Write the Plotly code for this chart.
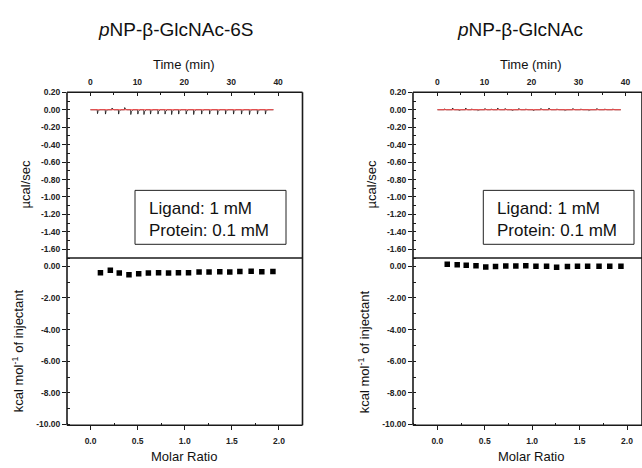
import plotly.graph_objects as go

# ---------------- data ----------------
# Raw thermogram: injection times (min) and spike heights (µcal/sec)
inj_times = [1.5, 3.2, 4.6, 6.0, 7.3, 8.6, 10.1, 11.4, 12.8, 14.4, 15.9, 17.3,
             18.8, 20.4, 22.0, 23.7, 25.4, 27.1, 28.8, 30.5, 32.2, 33.9, 35.6, 37.3]
spike_6S = [-0.045, -0.05, 0.02, -0.05, 0.025, -0.055, -0.05, -0.055, -0.05, -0.05,
            -0.05, -0.055, -0.05, -0.05, -0.055, -0.05, -0.05, -0.055, -0.05, -0.05,
            -0.05, -0.055, -0.05, -0.05]
spike_Glc = [0.01, 0.02, -0.01, 0.02, 0.01, -0.01, 0.015, 0.01, 0.02, 0.015,
             -0.01, 0.015, 0.01, -0.01, 0.015, 0.02, 0.01, -0.01, 0.015, 0.01,
             -0.01, 0.015, 0.01, 0.01]
baseline_t = [0.0, 39.0]
baseline_6S = [0.0, 0.0]
baseline_Glc = [0.0, 0.0]

# Integrated heats
molar_ratio = [0.105, 0.21, 0.305, 0.408, 0.511, 0.614, 0.722, 0.828, 0.933,
               1.04, 1.152, 1.258, 1.372, 1.478, 1.585, 1.705, 1.818, 1.936]
heat_6S = [-0.41, -0.25, -0.43, -0.54, -0.47, -0.43, -0.41, -0.43, -0.41,
           -0.41, -0.37, -0.37, -0.35, -0.37, -0.33, -0.31, -0.35, -0.33]
heat_Glc = [0.12, 0.10, 0.06, 0.04, -0.04, -0.02, 0.02, 0.02, 0.04,
            0.0, 0.0, -0.06, -0.02, 0.0, 0.0, 0.0, 0.0, 0.0]

titles = ["<i>p</i>NP-β-GlcNAc-6S", "<i>p</i>NP-β-GlcNAc"]
box_text = "Ligand: 1 mM<br>Protein: 0.1 mM"

top_y_vals = [0.2, 0.0, -0.2, -0.4, -0.6, -0.8, -1.0, -1.2, -1.4, -1.6]
top_y_text = ["0.20", "0.00", "-0.20", "-0.40", "-0.60", "-0.80", "-1.00", "-1.20", "-1.40", "-1.60"]
bot_y_vals = [0, -2, -4, -6, -8, -10]
bot_y_text = ["0.00", "-2.00", "-4.00", "-6.00", "-8.00", "-10.00"]
time_vals = [0, 10, 20, 30, 40]
ratio_vals = [0.0, 0.5, 1.0, 1.5, 2.0]
ratio_text = ["0.0", "0.5", "1.0", "1.5", "2.0"]


def thermogram(times, spikes, t_end=39.0):
    xs, ys = [0.0], [0.0]
    for t, s in zip(times, spikes):
        xs += [t - 0.05, t, t + 0.12, t + 0.45]
        ys += [0.0, s, s * 0.4, 0.0]
    xs.append(t_end)
    ys.append(0.0)
    return xs, ys


W, H = 642, 468
def px(x):
    return x / W
def py(y):
    return 1 - y / H

FONT = "Liberation Sans, Arial, sans-serif"
AX = "#1a1a1a"

fig = go.Figure()

panels = [
    dict(spk=spike_6S, base=baseline_6S, heat=heat_6S, xt="x", yt="y", xb="x2", yb="y2"),
    dict(spk=spike_Glc, base=baseline_Glc, heat=heat_Glc, xt="x3", yt="y3", xb="x4", yb="y4"),
]
for p in panels:
    tx, ty = thermogram(inj_times, p["spk"])
    fig.add_trace(go.Scatter(x=tx, y=ty, mode="lines", xaxis=p["xt"], yaxis=p["yt"],
                             line=dict(color="#111111", width=0.8), showlegend=False))
    fig.add_trace(go.Scatter(x=baseline_t, y=p["base"], mode="lines", xaxis=p["xt"], yaxis=p["yt"],
                             line=dict(color="#ff4a4a", width=1.0), showlegend=False))
    fig.add_trace(go.Scatter(x=molar_ratio, y=p["heat"], mode="markers", xaxis=p["xb"], yaxis=p["yb"],
                             marker=dict(symbol="square", size=5.5, color="black"), showlegend=False))

tickfont = dict(family=FONT, size=8.5, color="#222222", weight="bold")
common = dict(showline=False, tickcolor=AX, ticklen=4,
              tickwidth=1, showgrid=False, zeroline=False, tickfont=tickfont)

left_x = [px(67), px(302.5)]
right_x = [px(413), 1.0]
top_y = [py(258), py(89)]
bot_y = [py(428.5), py(258)]

def time_axis(dom, rng, anchor):
    return dict(domain=dom, range=rng, side="top", anchor=anchor, ticks="inside",
                tickvals=time_vals, ticklabelstandoff=5,
                minor=dict(ticks="inside", dtick=5, ticklen=2.5, tickcolor=AX),
                **common)

def ratio_axis(dom, rng, anchor):
    return dict(domain=dom, range=rng, anchor=anchor, ticks="outside",
                tickvals=ratio_vals, ticktext=ratio_text, ticklabelstandoff=4,
                minor=dict(ticks="inside", tickvals=[-0.25, 0.25, 0.75, 1.25, 1.75, 2.25],
                           ticklen=2.5, tickcolor=AX),
                **common)

def top_yaxis(dom, anchor):
    return dict(domain=dom, range=[-1.7, 0.2], anchor=anchor, ticks="outside",
                tickvals=top_y_vals, ticktext=top_y_text,
                minor=dict(ticks="inside", dtick=0.1, ticklen=2.5, tickcolor=AX),
                **common)

def bot_yaxis(dom, anchor):
    return dict(domain=dom, range=[-10.05, 0.52], anchor=anchor, ticks="outside",
                tickvals=bot_y_vals, ticktext=bot_y_text,
                minor=dict(ticks="inside", dtick=1, ticklen=2.5, tickcolor=AX),
                **common)

fig.update_layout(
    width=W, height=H, autosize=False,
    margin=dict(l=0, r=0, t=0, b=0),
    paper_bgcolor="white", plot_bgcolor="rgba(0,0,0,0)",
    xaxis=time_axis(left_x, [-5.0, 45.2], "y"),
    yaxis=top_yaxis(top_y, "x"),
    xaxis2=ratio_axis(left_x, [-0.25, 2.25], "y2"),
    yaxis2=bot_yaxis(bot_y, "x2"),
    xaxis3=time_axis(right_x, [-5.2, 43.5], "y3"),
    yaxis3=top_yaxis(top_y, "x3"),
    xaxis4=ratio_axis(right_x, [-0.256, 2.158], "y4"),
    yaxis4=bot_yaxis(bot_y, "x4"),
)

# panel frames: one line per edge, in paper coordinates (layout boxes, not data)
frame_line = dict(color=AX, width=1.6)
for xd in (left_x, right_x):
    edges = [
        (xd[0], top_y[1], xd[1], top_y[1]),   # top
        (xd[0], top_y[0], xd[1], top_y[0]),   # middle divider
        (xd[0], bot_y[0], xd[1], bot_y[0]),   # bottom
        (xd[0], bot_y[0], xd[0], top_y[1]),   # left
        (xd[1], bot_y[0], xd[1], top_y[1]),   # right
    ]
    for x0, y0, x1, y1 in edges:
        fig.add_shape(type="line", xref="paper", yref="paper",
                      x0=x0, y0=y0, x1=x1, y1=y1, layer="above", line=frame_line)

ann = []
def label(text, x, y, size, angle=0, **kw):
    ann.append(dict(text=text, x=px(x), y=py(y), xref="paper", yref="paper",
                    showarrow=False, textangle=angle, xanchor=kw.get("xanchor", "center"),
                    yanchor="middle", align=kw.get("align", "center"),
                    font=dict(family=FONT, size=size, color="#111111")))

for cx, tcx, title, ylx, ylx2, bx0, bx1 in [
        (176, 184, titles[0], 25, 18, 135, 286),
        (520, 531, titles[1], 371, 364, 483.3, 634)]:
    label(title, cx, 25, 19)
    label("Time (min)", tcx, 61, 13)
    label("Molar Ratio", tcx, 460, 13)
    label("µcal/sec", ylx, 183, 13, angle=-90)
    label("kcal mol<sup>-1</sup> of injectant", ylx2, 353, 13, angle=-90)
    label(box_text, bx0 + 12, 219, 17, xanchor="left", align="left")
    fig.add_shape(type="rect", xref="paper", yref="paper",
                  x0=px(bx0), x1=px(bx1), y0=py(244), y1=py(189),
                  line=dict(color="#222222", width=1), fillcolor="white", layer="below")

fig.update_layout(annotations=ann)
fig.write_html("out.html")
